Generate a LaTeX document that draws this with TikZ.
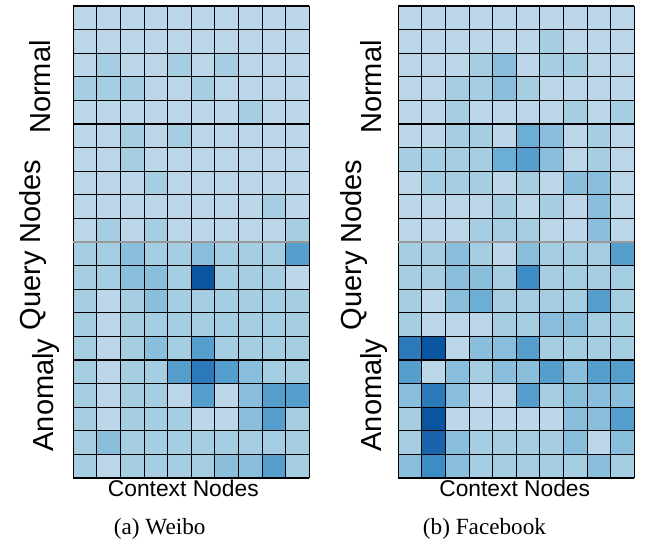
\documentclass[tikz,border=0pt]{standalone}
\usepackage{fontspec}
\setmainfont{Liberation Serif}
\setsansfont{Liberation Sans}
\usepackage{xcolor}
\usepackage{tikz}
\usetikzlibrary{positioning}

% heatmap shades, light to dark
\definecolor{hm0}{RGB}{189,215,234}
\definecolor{hm1}{RGB}{166,206,227}
\definecolor{hm2}{RGB}{137,190,220}
\definecolor{hm3}{RGB}{107,174,214}
\definecolor{hm4}{RGB}{86,158,205}
\definecolor{hm5}{RGB}{60,140,198}
\definecolor{hm6}{RGB}{45,122,187}
\definecolor{hm7}{RGB}{25,100,170}
\definecolor{hm8}{RGB}{11,85,160}

\begin{document}
\begin{tikzpicture}[
      x=0.5pt, y=-0.5pt,
      gridline/.style={draw=black, line width=0.55pt},
      split/.style={draw=black!40, line width=1pt},
      ylab/.style={font=\sffamily\fontsize{14.5}{16}\selectfont, rotate=90, anchor=base, inner sep=0pt},
      xlab/.style={font=\sffamily\fontsize{11.4}{13}\selectfont, anchor=base, inner sep=0pt},
      caption/.style={font=\fontsize{11.6}{13}\selectfont, anchor=base, inner sep=0pt}
    ]
      \useasboundingbox (0,0) rectangle (645,544);

      % Weibo heatmap
      \foreach \row [count=\r from 0] in {
        {0,0,0,0,0,0,0,0,0,0},{0,0,0,0,0,0,0,0,0,0},
        {0,1,0,0,1,0,1,0,0,0},{1,1,1,0,0,1,0,0,0,0},
        {0,0,0,0,0,0,0,1,0,0},{0,0,1,0,1,0,0,0,0,0},
        {0,0,1,0,0,0,0,0,0,0},{0,0,0,1,0,0,0,0,0,0},
        {0,0,0,0,0,0,0,0,1,0},{0,1,0,1,0,0,0,0,0,1},
        {1,1,2,1,1,2,1,1,1,4},{1,1,2,2,1,8,1,1,1,0},
        {1,0,1,2,1,1,1,1,1,1},{1,0,1,1,1,1,1,1,1,1},
        {1,0,1,2,1,4,1,1,1,1},{1,0,1,1,4,6,4,2,1,1},
        {1,0,1,1,0,4,0,2,4,4},{1,0,1,1,1,0,0,2,4,1},
        {1,2,1,1,1,1,1,1,1,1},{1,0,1,1,1,1,2,2,4,1}} {
        \foreach \v [count=\c from 0] in \row {
          \fill[hm\v] (73.3+23.6*\c,6+23.6*\r) rectangle ++(23.6,23.6);
        }
      }
      \foreach \c in {0,...,10}
        \draw[gridline] (73.3+23.6*\c,6) -- (73.3+23.6*\c,478);
      \foreach \r in {0,...,20}
        \draw[gridline] (73.3,6+23.6*\r) -- (309.3,6+23.6*\r);
      \draw[split] (73.3,242) -- (309.3,242);

      % Facebook heatmap
      \foreach \row [count=\r from 0] in {
        {0,0,0,0,0,0,0,0,0,0},{0,0,0,0,0,0,1,0,0,0},
        {0,0,0,1,2,0,1,1,0,0},{0,0,1,1,2,1,0,0,0,0},
        {0,0,1,0,0,0,0,1,0,1},{0,0,1,1,0,3,2,0,1,0},
        {1,1,1,1,3,4,2,0,1,0},{0,1,1,1,0,1,0,2,2,0},
        {0,0,0,0,1,0,1,0,2,0},{0,0,0,1,1,1,0,0,2,0},
        {1,1,2,1,0,2,1,1,1,4},{1,1,2,2,1,5,1,1,1,1},
        {1,0,2,3,1,1,1,1,4,1},{1,0,0,0,1,1,2,2,1,1},
        {6,8,0,2,2,4,1,1,1,1},{4,0,2,1,2,2,4,2,4,4},
        {2,6,2,0,0,4,1,2,2,2},{1,8,0,0,0,0,0,2,2,4},
        {1,7,2,1,1,1,1,2,0,2},{2,5,2,1,1,1,1,1,2,1}} {
        \foreach \v [count=\c from 0] in \row {
          \fill[hm\v] (398.3+23.6*\c,6+23.6*\r) rectangle ++(23.6,23.6);
        }
      }
      \foreach \c in {0,...,10}
        \draw[gridline] (398.3+23.6*\c,6) -- (398.3+23.6*\c,478);
      \foreach \r in {0,...,20}
        \draw[gridline] (398.3,6+23.6*\r) -- (634.3,6+23.6*\r);
      \draw[split] (398.3,242) -- (634.3,242);

      % Axis labels
      \node[ylab] (normalA) at (50,87) {Normal};
      \node[ylab] (queryA) at (40,245) {Query Nodes};
      \node[ylab] (anomalyA) at (53.3,395) {Anomaly};
      \node[ylab] (normalB) at (381.7,87) {Normal};
      \node[ylab] (queryB) at (361.7,245) {Query Nodes};
      \node[ylab] (anomalyB) at (381.7,395) {Anomaly};
      \node[xlab] (contextA) at (183.3,496.7) {Context Nodes};
      \node[xlab] (contextB) at (514.7,496.7) {Context Nodes};

      % Captions
      \node[caption] (capA) at (159.7,535) {(a) Weibo};
      \node[caption] (capB) at (484.5,535) {(b) Facebook};
    \end{tikzpicture}
\end{document}
